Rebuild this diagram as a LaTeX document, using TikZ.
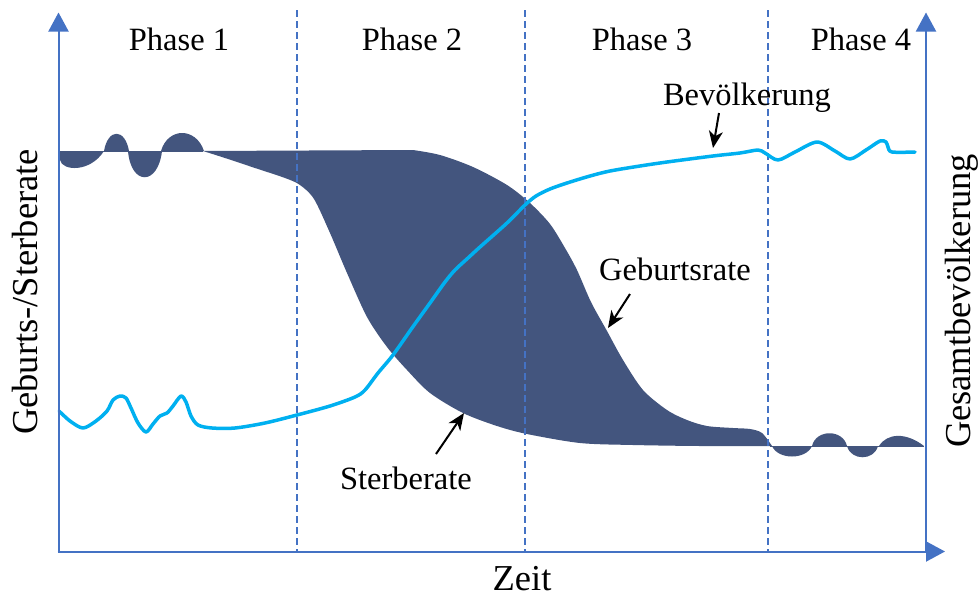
\documentclass[tikz,border=0pt]{standalone}
\usepackage{fontspec}
\setmainfont{Liberation Serif}
\usetikzlibrary{arrows.meta}
\definecolor{axisblue}{RGB}{68,114,196}
\definecolor{darkfill}{RGB}{67,85,126}
\definecolor{popcyan}{RGB}{0,176,240}
\begin{document}
\begin{tikzpicture}[x=1pt,y=-1pt,
  lbl/.style={font=\fontsize{32.5}{36}\selectfont, inner sep=0pt, anchor=base},
  axlbl/.style={font=\fontsize{36.5}{40}\selectfont, inner sep=0pt, anchor=base},
  axisline/.style={axisblue, line width=2pt, -{Triangle[length=19pt,width=20pt]}},
  phaseline/.style={axisblue, line width=1.6pt, dash pattern=on 7pt off 4pt},
  popline/.style={popcyan, line width=3.5pt, line join=round, line cap=round},
  pointer/.style={black, line width=2pt, -{Stealth[length=17pt,width=14pt,inset=5pt]}},
  seam/.style={darkfill, line width=1pt}]
\useasboundingbox (0,0) rectangle (978,598);

% ---- dark area between birth rate and death rate ----
\fill[darkfill] (203,151) -- (413,150)
  -- plot[smooth, tension=0.5] coordinates {(413,150) (440,155) (473,167) (507,185) (530,203) (550,224) (565,248) (577,270) (591,302) (607,331) (623,360) (643,390) (667,410) (687,420) (707,426) (733,428) (750,429) (762,433) (772,446)}
  -- plot[smooth, tension=0.5] coordinates {(772,446) (700,446) (633,445) (580,443) (527,434) (497,426) (463,413) (430,393) (407,370) (387,347) (367,317) (347,273) (330,233) (314,199) (300,185) (285,178) (255,168) (225,158) (203,151)}
  -- cycle;
% phase 1 oscillations
\draw[seam] (60,151) -- (203,151);
\fill[darkfill] (60,151) -- (60,160) .. controls (62,171) and (90,173) .. (104,151) -- cycle;
\fill[darkfill] (104,151) .. controls (108,128) and (125,128) .. (129,151) -- cycle;
\fill[darkfill] (128,151) .. controls (131,186) and (158,186) .. (162,151) -- cycle;
\fill[darkfill] (161,151) .. controls (168,127) and (196,127) .. (204,151) -- cycle;
% phase 4 oscillations
\draw[seam] (770,446) -- (924,446);
\fill[darkfill] (772,446) .. controls (778,460) and (806,460) .. (812,446) -- cycle;
\fill[darkfill] (812,446) .. controls (816,429) and (843,429) .. (847,446) -- cycle;
\fill[darkfill] (847,446) .. controls (851,461) and (874,461) .. (878,446) -- cycle;
\fill[darkfill] (879,446) .. controls (887,433) and (906,432) .. (924,446) -- cycle;

% ---- phase separators ----
\foreach \px in {297,525,768}
  \draw[phaseline] (\px,10) -- (\px,551);

% ---- population curve ----
\draw[popline] plot[smooth, tension=0.5] coordinates {(59,411) (70,421) (83,428) (96,421) (107,411) (113,400) (120,396) (126,398) (131,408) (138,423) (146,432) (153,424) (160,416) (167,413) (173,406) (181,396) (186,402) (191,416) (198,425) (212,428) (235,428) (265,423) (297,415) (330,406) (355,397) (365,390) (378,373) (393,355) (412,328) (430,303) (445,282) (455,270) (468,258) (480,247) (507,223) (525,205) (536,196) (550,189) (567,183) (590,176) (610,171) (640,166) (667,162) (713,156) (740,153) (758,150) (765,153) (778,160) (795,152) (817,142) (835,151) (850,159) (866,150) (880,141) (886,142) (888,147) (892,152) (915,152)};

% ---- axes ----
\draw[axisline] (58.5,552) -- (58.5,12.5);
\draw[axisline] (926,552) -- (926,12.5);
\draw[axisline] (57.5,551.5) -- (945,551.5);

% ---- labels ----
\node[lbl] (p1) at (179,50) {Phase 1};
\node[lbl] (p2) at (412,50) {Phase 2};
\node[lbl] (p3) at (642,50) {Phase 3};
\node[lbl] (p4) at (861,50) {Phase 4};
\node[lbl] (bev) at (747,105) {Bevölkerung};
\node[lbl] (geb) at (675,280) {Geburtsrate};
\node[lbl] (ster) at (406,489) {Sterberate};
\node[axlbl] (zeit) at (522,590) {Zeit};
\node[axlbl, rotate=90] (ylab) at (37,292) {Geburts-/Sterberate};
\node[axlbl, rotate=90] (y2lab) at (970,301) {Gesamtbevölkerung};

% ---- pointers ----
\coordinate (bevT) at (719,113);
\coordinate (bevH) at (713,148);
\coordinate (gebT) at (630,294);
\coordinate (gebH) at (608,328);
\coordinate (sterT) at (436,454);
\coordinate (sterH) at (464,413);
\draw[pointer] (bevT) -- (bevH);
\draw[pointer] (gebT) -- (gebH);
\draw[pointer] (sterT) -- (sterH);
\end{tikzpicture}
\end{document}
